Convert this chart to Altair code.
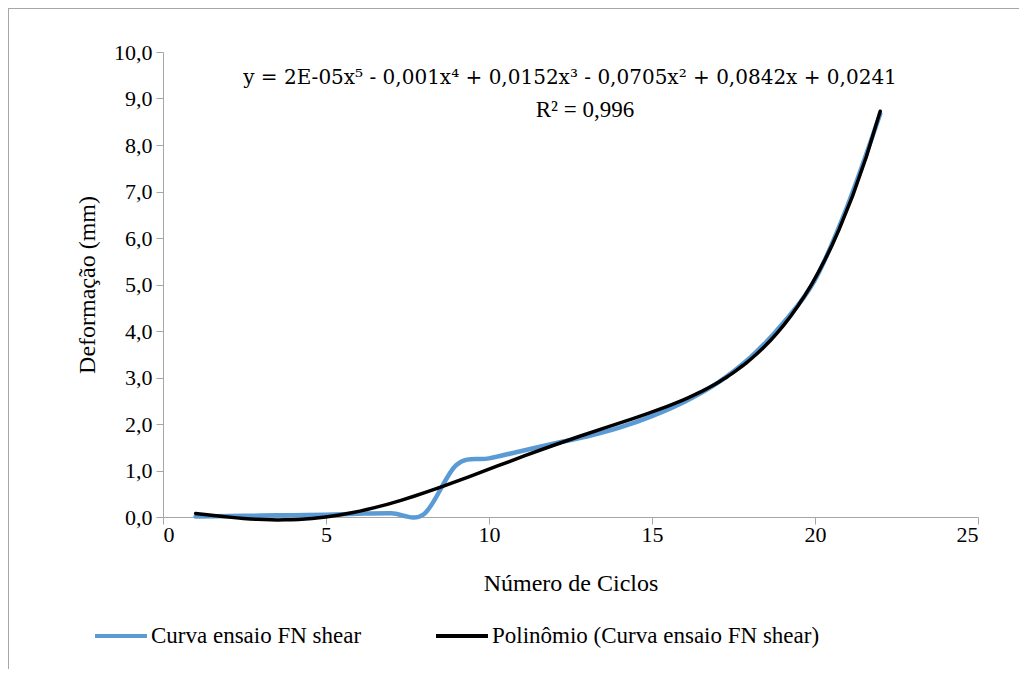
import altair as alt
import pandas as pd

cycles = list(range(1, 23))
deform = [0.01, 0.02, 0.03, 0.04, 0.05, 0.07, 0.08, 0.06, 1.12, 1.26, 1.42,
          1.58, 1.73, 1.92, 2.17, 2.48, 2.88, 3.42, 4.15, 5.1, 6.7, 8.67]
series_names = ["Curva ensaio FN shear", "Polinômio (Curva ensaio FN shear)"]
series_colors = ["#5B9BD5", "#000000"]
equation = "y = 2E-05x⁵ - 0,001x⁴ + 0,0152x³ - 0,0705x² + 0,0842x + 0,0241"
r2_text = "R² = 0,996"

df = pd.DataFrame({"x": cycles, "y": deform, "serie": series_names[0]})

FONT = "Liberation Serif"

color = alt.Color(
    "serie:N",
    scale=alt.Scale(domain=series_names, range=series_colors),
    legend=alt.Legend(
        title=None, orient="none", direction="horizontal",
        legendX=-70, legendY=556,
        symbolType="stroke", symbolSize=2700, symbolStrokeWidth=4,
        labelFont=FONT, labelFontSize=23, labelColor="#000000",
        labelOffset=2, columnPadding=66, labelLimit=600,
    ),
)

xenc = alt.X(
    "x:Q",
    scale=alt.Scale(domain=[0, 25], nice=False, zero=True),
    axis=alt.Axis(
        values=[0, 5, 10, 15, 20, 25], title="Número de Ciclos",
        grid=False, domainColor="#a6a6a6", tickColor="#a6a6a6", tickSize=7,
        labelFont=FONT, labelFontSize=22, labelColor="#000000", labelPadding=0,
        titleFont=FONT, titleFontSize=24, titleFontWeight="normal",
        titleColor="#000000", titlePadding=26,
    ),
)
yenc = alt.Y(
    "y:Q",
    scale=alt.Scale(domain=[0, 10], nice=False),
    axis=alt.Axis(
        values=list(range(0, 11)), title="Deformação (mm)",
        labelExpr="replace(format(datum.value, '.1f'), '.', ',')",
        grid=False, domainColor="#a6a6a6", tickColor="#a6a6a6", tickSize=7,
        labelFont=FONT, labelFontSize=22, labelColor="#000000", labelPadding=4,
        titleFont=FONT, titleFontSize=24, titleFontWeight="normal",
        titleColor="#000000", titlePadding=14,
    ),
)

base = alt.Chart(df)

data_line = base.mark_line(
    interpolate="cardinal", tension=0, strokeWidth=4.5, strokeCap="round"
).encode(x=xenc, y=yenc, color=color)

trend = base.transform_regression(
    "x", "y", method="poly", order=5, extent=[1, 22]
).transform_calculate(
    serie=f"'{series_names[1]}'"
).mark_line(strokeWidth=3.5, strokeCap="round").encode(x="x:Q", y="y:Q", color=color)

eq_text = alt.Chart(pd.DataFrame({"t": [equation]})).mark_text(
    font="DejaVu Serif", fontSize=20, color="#000000", align="center", baseline="middle"
).encode(x=alt.value(407), y=alt.value(26), text="t:N")

r2 = alt.Chart(pd.DataFrame({"t": [r2_text]})).mark_text(
    font=FONT, fontSize=23, color="#000000", align="center", baseline="middle"
).encode(x=alt.value(422), y=alt.value(58), text="t:N")

frame_left = alt.Chart(pd.DataFrame({"a": [0]})).mark_rule(
    color="#a6a6a6", strokeWidth=1
).encode(x=alt.value(-154.5), y=alt.value(-44), y2=alt.value(640))
frame_top = alt.Chart(pd.DataFrame({"a": [0]})).mark_rule(
    color="#a6a6a6", strokeWidth=1
).encode(x=alt.value(-156), x2=alt.value(880), y=alt.value(-43.5))

chart = alt.layer(frame_left, frame_top, data_line, trend, eq_text, r2).properties(
    width=815, height=465,
    autosize=alt.AutoSizeParams(type="none"),
    padding={"left": 155, "top": 44, "right": 41, "bottom": 152},
).configure_view(stroke=None)

chart.save("out.html", embed_options={"renderer": "svg", "actions": False})
